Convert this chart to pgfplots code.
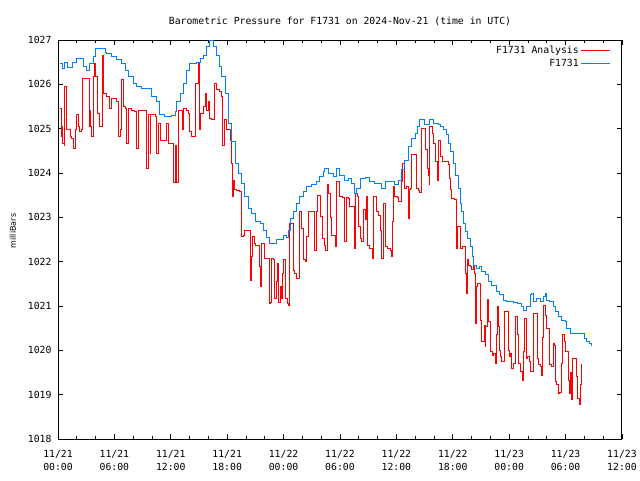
\documentclass[border=0pt]{standalone}
\usepackage{pgfplots}
\pgfplotsset{compat=1.18}
\usepackage{fontspec}
\setmainfont{DejaVu Sans Mono}
\newfontfamily\labfont{DejaVu Sans}
\definecolor{anared}{RGB}{255,0,0}
\definecolor{obsblue}{RGB}{0,128,255}
\newcommand{\tf}{\fontsize{9.8}{12.6}\selectfont}
\begin{document}
\begin{tikzpicture}
\path[use as bounding box] (0,0) rectangle (640pt,480pt);
\begin{axis}[
  at={(58pt,41pt)}, anchor=south west,
  scale only axis, width=564pt, height=399pt,
  xmin=0, xmax=60, ymin=1018, ymax=1027,
  axis line style={black, line width=1pt},
  every tick/.style={black, line width=0.8pt},
  tick align=inside,
  major tick length=5pt, minor tick length=3pt,
  xtick={0,6,...,60},
  minor xtick={2,4,8,10,14,16,20,22,26,28,32,34,38,40,44,46,50,52,56,58},
  xticklabels={11/21\\00:00,11/21\\06:00,11/21\\12:00,11/21\\18:00,11/22\\00:00,11/22\\06:00,11/22\\12:00,11/22\\18:00,11/23\\00:00,11/23\\06:00,11/23\\12:00},
  xticklabel style={align=center, font=\tf, anchor=north, yshift=-8pt},
  ytick={1018,1019,...,1027},
  yticklabels={1018,1019,1020,1021,1022,1023,1024,1025,1026,1027},
  yticklabel style={font=\tf, anchor=east, xshift=-3pt},
  title={Barometric Pressure for F1731 on 2024-Nov-21 (time in UTC)},
  title style={font=\tf, at={(axis description cs:0.5,1)}, anchor=center, yshift=13pt},
  ylabel={milliBars},
  ylabel style={font=\labfont\fontsize{8}{10}\selectfont, at={(axis description cs:0,0.5)}, anchor=center, xshift=8.5pt, yshift=45pt},
  legend style={draw=none, fill=none, font=\tf, at={(axis description cs:1,1)}, anchor=north east, xshift=-10pt, yshift=-3pt, row sep=0pt, inner sep=1pt},
  legend cell align=right,
  legend plot pos=right,
  legend image code/.code={\draw[#1] (0pt,0pt) -- (29pt,0pt);},
]
\addplot[const plot, anared, line width=1pt] table {
t p
0.21 1025.45
0.32 1024.82
0.43 1025.04
0.53 1024.67
0.69 1024.63
0.74 1025.95
0.93 1024.97
1.10 1024.97
1.28 1024.82
1.46 1024.78
1.63 1024.56
1.81 1024.97
1.99 1025.31
2.16 1025.04
2.34 1024.93
2.52 1024.97
2.63 1026.14
3.22 1026.13
3.33 1025.04
3.40 1025.42
3.51 1025.04
3.59 1024.82
3.76 1026.17
3.86 1026.47
4.04 1026.17
4.18 1025.35
4.39 1025.04
4.65 1025.04
4.76 1026.66
4.89 1025.80
5.11 1025.72
5.35 1025.72
5.53 1025.46
5.71 1025.68
6.06 1025.68
6.24 1025.61
6.41 1024.82
6.60 1024.97
6.78 1026.10
6.95 1025.50
7.13 1025.46
7.31 1024.67
7.48 1025.46
7.84 1025.42
8.19 1025.38
8.37 1024.56
8.54 1025.42
8.90 1025.40
9.26 1025.42
9.44 1024.10
9.61 1025.31
9.79 1024.44
9.89 1025.31
10.32 1025.28
10.50 1024.44
10.67 1025.12
10.93 1024.74
11.38 1024.74
11.56 1025.12
11.73 1024.67
12.10 1024.67
12.27 1023.78
12.45 1024.63
12.63 1023.78
12.80 1025.42
13.16 1025.42
13.27 1024.97
13.40 1025.46
13.69 1025.42
13.86 1025.35
14.04 1024.93
14.22 1024.82
14.57 1024.82
14.68 1026.02
14.93 1026.47
15.03 1024.97
15.18 1025.35
15.46 1025.50
15.64 1025.80
15.82 1025.42
15.99 1025.61
16.17 1025.24
16.35 1025.20
16.60 1026.02
16.81 1025.88
17.23 1025.84
17.41 1025.72
17.52 1024.63
17.66 1025.20
17.95 1024.97
18.30 1024.74
18.48 1024.22
18.59 1023.47
18.65 1023.84
18.76 1023.62
18.94 1023.60
19.36 1023.58
19.47 1023.05
19.54 1022.56
19.71 1022.60
19.82 1022.71
20.43 1022.70
20.50 1021.58
20.61 1022.11
20.71 1022.56
20.88 1022.40
21.03 1022.37
21.31 1022.37
21.41 1021.89
21.56 1021.43
21.67 1022.40
21.84 1022.40
21.95 1022.07
22.20 1022.07
22.45 1021.06
22.63 1021.08
22.73 1022.07
22.90 1022.04
23.01 1021.17
23.19 1021.17
23.27 1021.55
23.37 1021.96
23.48 1021.08
23.62 1021.43
23.76 1021.17
23.90 1021.73
23.97 1022.04
24.15 1021.17
24.44 1021.06
24.57 1021.02
24.68 1022.87
24.89 1022.87
25.03 1021.81
25.21 1021.73
25.39 1021.62
25.56 1021.62
25.67 1023.13
25.85 1023.13
25.93 1022.75
26.10 1022.04
26.28 1022.00
26.46 1022.56
26.63 1023.13
26.81 1023.13
27.34 1022.26
27.45 1023.13
27.59 1023.50
27.80 1023.50
27.95 1023.01
28.16 1022.53
28.40 1022.37
28.51 1022.26
28.65 1023.73
28.80 1023.54
28.94 1023.00
29.12 1022.60
29.36 1022.58
29.54 1022.34
29.65 1023.80
29.82 1023.80
30.00 1023.47
30.29 1023.45
30.43 1022.94
30.53 1022.45
30.71 1023.45
30.88 1023.43
31.06 1023.24
31.35 1023.24
31.49 1022.30
31.60 1023.54
31.84 1023.47
31.95 1022.79
32.13 1022.53
32.31 1022.45
32.48 1023.17
32.66 1022.94
32.77 1023.47
32.90 1022.37
33.12 1022.30
33.37 1022.30
33.44 1022.07
33.54 1023.47
33.80 1023.47
33.90 1023.13
34.07 1023.05
34.26 1022.70
34.44 1022.07
34.61 1023.32
34.79 1023.10
34.89 1022.34
35.07 1022.30
35.32 1022.26
35.50 1022.11
35.61 1022.90
35.67 1023.70
35.85 1023.47
36.10 1023.45
36.20 1023.35
36.49 1023.35
36.56 1023.80
36.67 1024.22
36.81 1024.20
36.91 1023.65
37.10 1023.70
37.27 1022.98
37.37 1023.62
37.52 1023.65
37.63 1024.41
37.98 1024.41
38.09 1024.03
38.16 1023.65
38.33 1023.60
38.51 1023.55
38.62 1024.26
38.72 1025.00
38.97 1025.00
39.12 1024.52
39.29 1024.10
39.39 1023.95
39.50 1023.73
39.57 1025.04
39.75 1025.04
39.86 1024.90
40.00 1024.67
40.21 1024.26
40.35 1023.84
40.50 1024.74
40.64 1024.59
40.74 1024.37
40.93 1024.26
41.52 1024.20
41.60 1023.88
41.78 1023.62
41.88 1023.43
42.23 1023.40
42.41 1022.30
42.52 1022.79
42.69 1022.79
42.84 1022.30
42.98 1022.34
43.30 1022.26
43.37 1021.74
43.48 1021.29
43.54 1022.04
43.65 1021.92
43.83 1021.88
44.01 1021.83
44.18 1021.88
44.36 1021.74
44.44 1020.60
44.54 1021.44
44.65 1021.51
44.82 1021.51
44.97 1020.68
45.07 1020.20
45.24 1020.20
45.35 1020.57
45.43 1020.08
45.53 1020.53
45.67 1021.15
45.78 1020.64
45.88 1020.64
45.96 1020.27
46.03 1019.97
46.20 1019.89
46.38 1019.93
46.49 1019.71
46.60 1020.35
46.73 1020.98
46.84 1020.53
46.95 1020.00
47.10 1019.86
47.20 1019.75
47.37 1019.75
47.48 1020.23
47.55 1020.87
47.73 1020.87
47.91 1020.00
48.01 1019.86
48.16 1019.93
48.27 1019.59
48.44 1019.71
48.62 1020.38
48.72 1020.76
48.86 1020.35
48.97 1019.71
49.15 1019.52
49.33 1019.52
49.44 1019.33
49.57 1019.97
49.68 1020.72
49.86 1019.82
49.97 1019.86
50.14 1019.75
50.29 1019.52
50.50 1019.52
50.61 1020.83
50.82 1020.83
50.96 1019.82
51.10 1019.67
51.28 1019.64
51.46 1019.44
51.56 1020.30
51.70 1021.02
51.84 1020.79
51.99 1020.50
52.16 1020.50
52.27 1020.08
52.34 1019.67
52.52 1019.64
52.69 1020.16
52.87 1020.12
52.95 1019.30
53.05 1019.22
53.22 1019.03
53.40 1019.06
53.59 1019.71
53.69 1020.35
53.83 1020.20
53.94 1019.97
54.12 1019.97
54.29 1019.33
54.39 1019.03
54.54 1019.50
54.65 1018.88
54.76 1019.82
55.11 1019.82
55.18 1019.40
55.29 1018.92
55.46 1018.77
55.56 1019.22
55.64 1019.70
};
\addlegendentry{F1731 Analysis}
\addplot[const plot, obsblue, line width=1pt] table {
t p
0.21 1026.48
0.43 1026.35
0.74 1026.50
1.06 1026.38
1.49 1026.50
1.99 1026.59
2.69 1026.40
3.05 1026.32
3.40 1026.47
3.76 1026.62
3.94 1026.81
4.65 1026.81
5.00 1026.72
5.18 1026.70
5.71 1026.62
6.24 1026.55
6.78 1026.47
7.13 1026.32
7.48 1026.17
8.01 1026.02
8.37 1025.95
8.90 1025.91
9.44 1025.91
9.97 1025.72
10.50 1025.61
10.85 1025.31
11.38 1025.27
12.10 1025.30
12.45 1025.38
12.63 1025.61
12.98 1025.80
13.33 1026.02
13.69 1026.32
14.04 1026.47
14.76 1026.50
15.11 1026.59
15.46 1026.66
15.82 1026.85
16.17 1027.00
16.52 1026.85
16.88 1026.66
17.23 1026.40
17.41 1026.17
17.77 1025.80
18.12 1025.12
18.48 1024.70
18.83 1024.22
19.18 1023.99
19.54 1023.77
19.89 1023.47
20.24 1023.20
20.61 1023.09
20.96 1022.90
21.49 1022.87
21.84 1022.71
22.20 1022.55
22.55 1022.40
23.09 1022.40
23.27 1022.49
23.97 1022.60
24.26 1022.55
24.50 1022.71
24.76 1022.98
25.03 1023.13
25.39 1023.32
25.74 1023.47
26.10 1023.58
26.46 1023.69
26.99 1023.73
27.52 1023.80
27.87 1023.92
28.22 1024.03
28.40 1024.10
28.76 1023.99
29.29 1023.92
29.65 1024.10
30.00 1023.95
30.53 1023.84
30.88 1023.88
31.24 1023.77
31.49 1023.54
31.78 1023.65
32.13 1023.88
32.66 1023.90
33.19 1023.80
33.72 1023.77
34.44 1023.65
34.79 1023.80
35.50 1023.80
35.85 1023.73
36.20 1023.84
36.56 1024.07
36.91 1024.29
37.27 1024.59
37.63 1024.78
37.98 1024.90
38.22 1025.04
38.51 1025.20
38.86 1025.20
39.04 1025.10
39.39 1025.10
39.57 1025.21
39.93 1025.12
40.46 1025.10
40.64 1025.06
40.99 1024.97
41.35 1024.86
41.52 1024.67
41.78 1024.48
42.05 1024.22
42.34 1023.95
42.59 1023.65
42.77 1023.32
42.95 1023.13
43.12 1022.87
43.30 1022.68
43.54 1022.53
43.83 1022.34
44.12 1022.11
44.18 1021.92
44.54 1021.85
44.82 1021.88
45.07 1021.77
45.43 1021.70
45.78 1021.55
46.14 1021.47
46.67 1021.32
47.02 1021.25
47.37 1021.13
47.73 1021.10
48.44 1021.08
48.86 1021.06
49.33 1020.98
49.50 1020.89
49.86 1020.98
50.14 1021.00
50.29 1021.25
50.39 1021.29
50.56 1021.10
50.93 1021.17
51.28 1021.10
51.63 1021.21
51.81 1021.29
51.99 1021.13
52.34 1021.10
52.69 1020.98
52.95 1020.87
53.22 1020.76
53.59 1020.68
53.94 1020.64
54.12 1020.50
54.47 1020.38
55.71 1020.38
55.96 1020.27
56.24 1020.20
56.52 1020.16
56.78 1020.10
};
\addlegendentry{F1731}
\end{axis}
\end{tikzpicture}
\end{document}
